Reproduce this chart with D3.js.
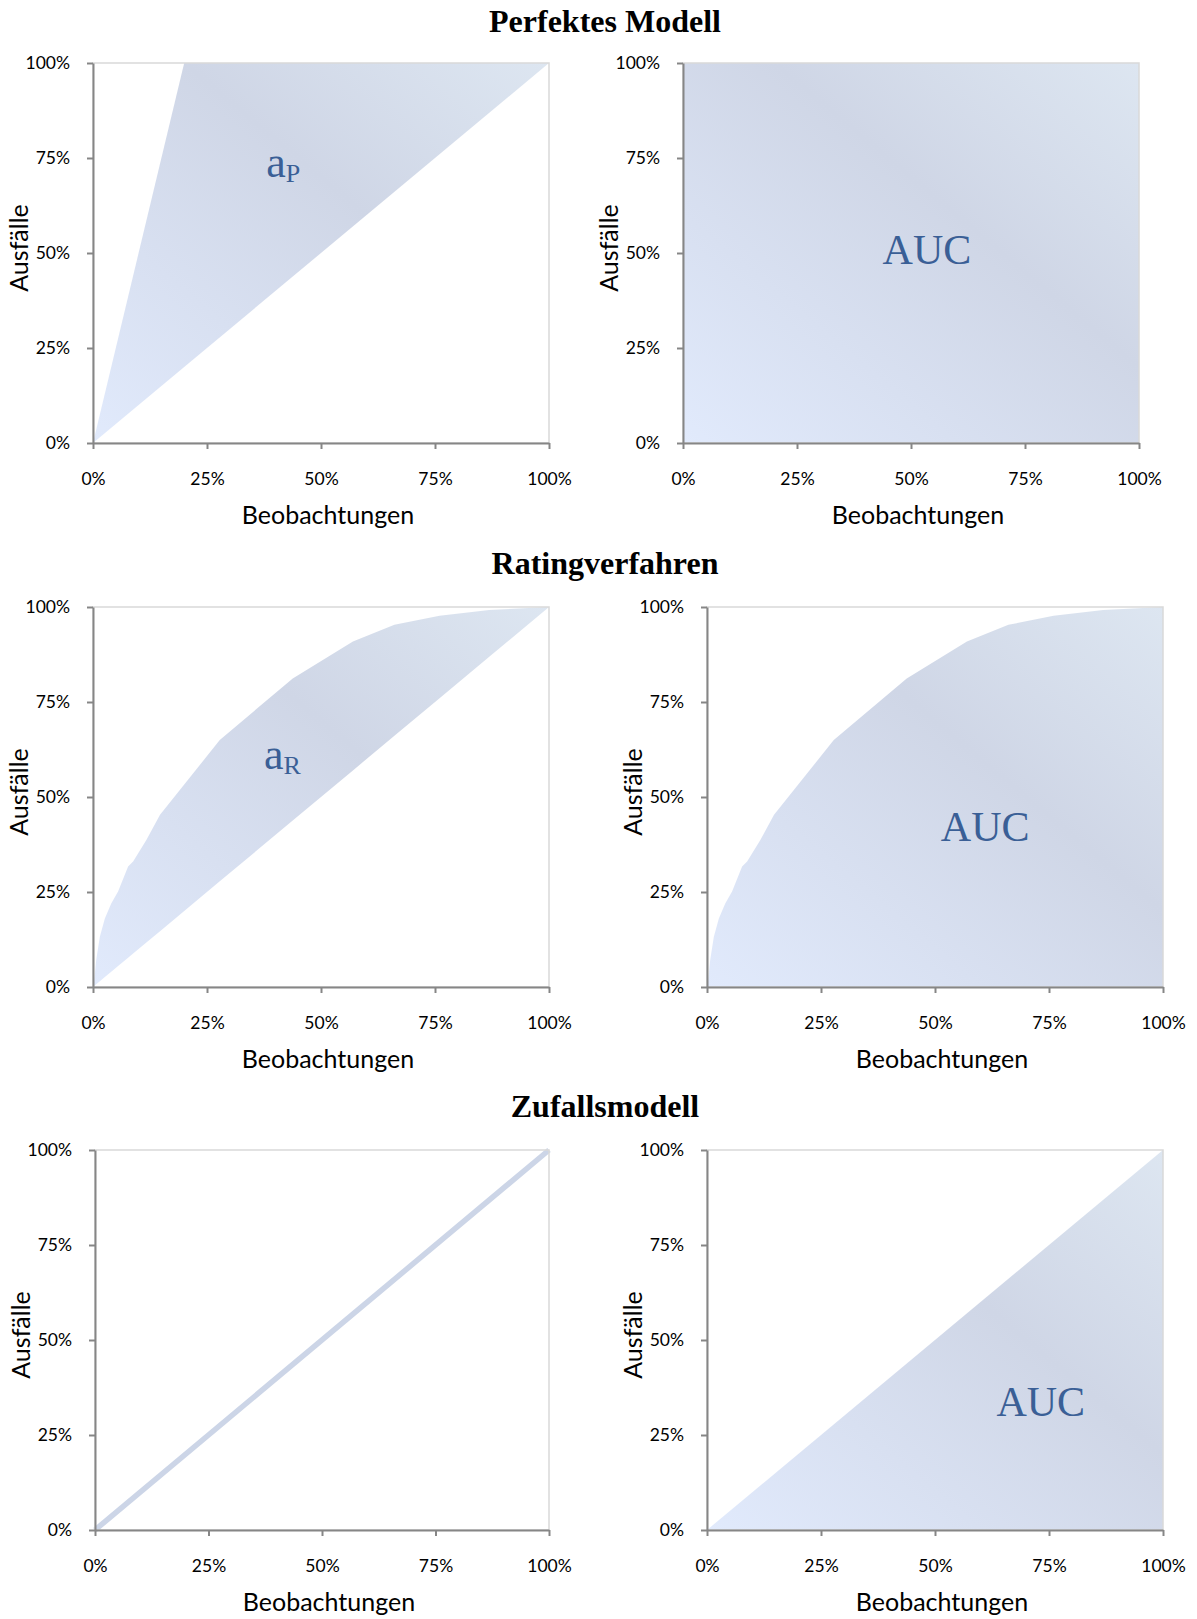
<!DOCTYPE html>
<html>
<head>
<meta charset="utf-8">
<script src="https://cdn.jsdelivr.net/npm/d3@7"></script>
<style>
  body { margin: 0; background: #fff; }
  .tick text { font-family: Lato, "Open Sans", sans-serif; font-size: 17.5px; fill: #000; }
  .axis-title { font-family: Lato, "Open Sans", sans-serif; font-size: 25px; fill: #000; }
  .row-title { font-family: "Liberation Serif", "Times New Roman", serif; font-weight: bold; font-size: 32px; fill: #000; }
  .area-label { font-family: "Liberation Serif", "Times New Roman", serif; fill: #3a5f96; }
</style>
</head>
<body>
<svg id="chart" width="1197" height="1619"></svg>
<script>
// shares on both axes
const tickValues = [0, 0.25, 0.5, 0.75, 1];
const rowTitles = ['Perfektes Modell', 'Ratingverfahren', 'Zufallsmodell'];

// random model (diagonal)
const diagX = [0, 1];
const diagY = [0, 1];

// perfect model, CAP curve and ROC curve
const capPerfectX = [0, 0.2, 1];
const capPerfectY = [0, 1, 1];
const rocPerfectX = [0, 0, 1];
const rocPerfectY = [0, 1, 1];

// rating procedure curve
const ratingX = [0, 0.002, 0.007, 0.015, 0.026, 0.04, 0.055, 0.077, 0.088, 0.117, 0.147, 0.278, 0.438, 0.57, 0.661, 0.76, 0.869, 1];
const ratingY = [0, 0.01, 0.071, 0.132, 0.18, 0.22, 0.251, 0.317, 0.33, 0.387, 0.453, 0.65, 0.812, 0.909, 0.953, 0.977, 0.992, 1];

const zip = (xs, ys) => xs.map((x, i) => ({ x: x, y: ys[i] }));

const W = 456;
const H = 380;

const panels = [
  { left: 93, top: 63, w: W, mode: 'between', curve: zip(capPerfectX, capPerfectY), label: ['a', 'P'], lx: 0.38, ly: 0.70 },
  { left: 683, top: 63, w: W, mode: 'under', curve: zip(rocPerfectX, rocPerfectY), label: ['AUC'], lx: 0.535, ly: 0.471 },
  { left: 93, top: 607, w: W, mode: 'between', curve: zip(ratingX, ratingY), label: ['a', 'R'], lx: 0.375, ly: 0.574 },
  { left: 707, top: 607, w: W, mode: 'under', curve: zip(ratingX, ratingY), label: ['AUC'], lx: 0.61, ly: 0.384 },
  { left: 95, top: 1150, w: 454, mode: 'line', curve: zip(diagX, diagY) },
  { left: 707, top: 1150, w: W, mode: 'under', curve: zip(diagX, diagY), label: ['AUC'], lx: 0.732, ly: 0.30 }
];

const titleBaselines = [31.5, 574, 1117];

const svg = d3.select('#chart');

const grad = svg.append('defs').append('linearGradient')
  .attr('id', 'fillGrad')
  .attr('x1', 0).attr('y1', 1).attr('x2', 1).attr('y2', 0);
grad.append('stop').attr('offset', '0%').attr('stop-color', '#e1eafc');
grad.append('stop').attr('offset', '60%').attr('stop-color', '#cfd6e6');
grad.append('stop').attr('offset', '100%').attr('stop-color', '#dde6f1');

rowTitles.forEach((t, i) => {
  svg.append('text')
    .attr('class', 'row-title')
    .attr('x', 605)
    .attr('y', titleBaselines[i])
    .attr('text-anchor', 'middle')
    .text(t);
});

const pct = d3.format('.0%');

panels.forEach(p => {
  const x = d3.scaleLinear().domain([0, 1]).range([p.left, p.left + p.w]);
  const y = d3.scaleLinear().domain([0, 1]).range([p.top + H, p.top]);
  const g = svg.append('g');

  if (p.mode === 'line') {
    g.append('path')
      .datum(p.curve)
      .attr('d', d3.line().x(d => x(d.x)).y(d => y(d.y)))
      .attr('fill', 'none')
      .attr('stroke', '#ccd5e7')
      .attr('stroke-width', 5.5);
  } else {
    const area = d3.area()
      .x(d => x(d.x))
      .y1(d => y(d.y))
      .y0(d => p.mode === 'between' ? y(d.x) : y(0));
    g.append('path')
      .datum(p.curve)
      .attr('d', area)
      .attr('fill', 'url(#fillGrad)');
  }

  // plot area frame
  g.append('rect')
    .attr('x', x(0)).attr('y', y(1))
    .attr('width', x(1) - x(0)).attr('height', y(0) - y(1))
    .attr('fill', 'none')
    .attr('stroke', '#d9d9d9')
    .attr('stroke-width', 1.5);

  const yAxis = g.append('g')
    .attr('transform', `translate(${x(0)},0)`)
    .call(d3.axisLeft(y).tickValues(tickValues).tickFormat(pct).tickSize(6).tickSizeOuter(0).tickPadding(17));
  const xAxis = g.append('g')
    .attr('transform', `translate(0,${y(0)})`)
    .call(d3.axisBottom(x).tickValues(tickValues).tickFormat(pct).tickSize(6).tickSizeOuter(0).tickPadding(24));

  [yAxis, xAxis].forEach(a => {
    a.select('.domain').attr('stroke', '#868686').attr('stroke-width', 2);
    a.selectAll('.tick line').attr('stroke', '#868686').attr('stroke-width', 2);
  });

  g.append('text')
    .attr('class', 'axis-title')
    .attr('x', (x(0) + x(1)) / 2 + 7)
    .attr('y', y(0) + 81)
    .attr('text-anchor', 'middle')
    .text('Beobachtungen');

  const cy = (y(0) + y(1)) / 2 - 5;
  g.append('text')
    .attr('class', 'axis-title')
    .attr('transform', `translate(${x(0) - 65},${cy}) rotate(-90)`)
    .attr('text-anchor', 'middle')
    .text('Ausfälle');

  if (p.label) {
    const t = g.append('text')
      .attr('class', 'area-label')
      .attr('x', x(p.lx))
      .attr('y', y(p.ly));
    if (p.label.length === 1) {
      t.attr('text-anchor', 'middle').style('font-size', '42px').text(p.label[0]);
    } else {
      t.style('font-size', '44px');
      t.append('tspan').text(p.label[0]);
      t.append('tspan').attr('dy', 5).style('font-size', '26px').text(p.label[1]);
    }
  }
});
</script>
</body>
</html>
